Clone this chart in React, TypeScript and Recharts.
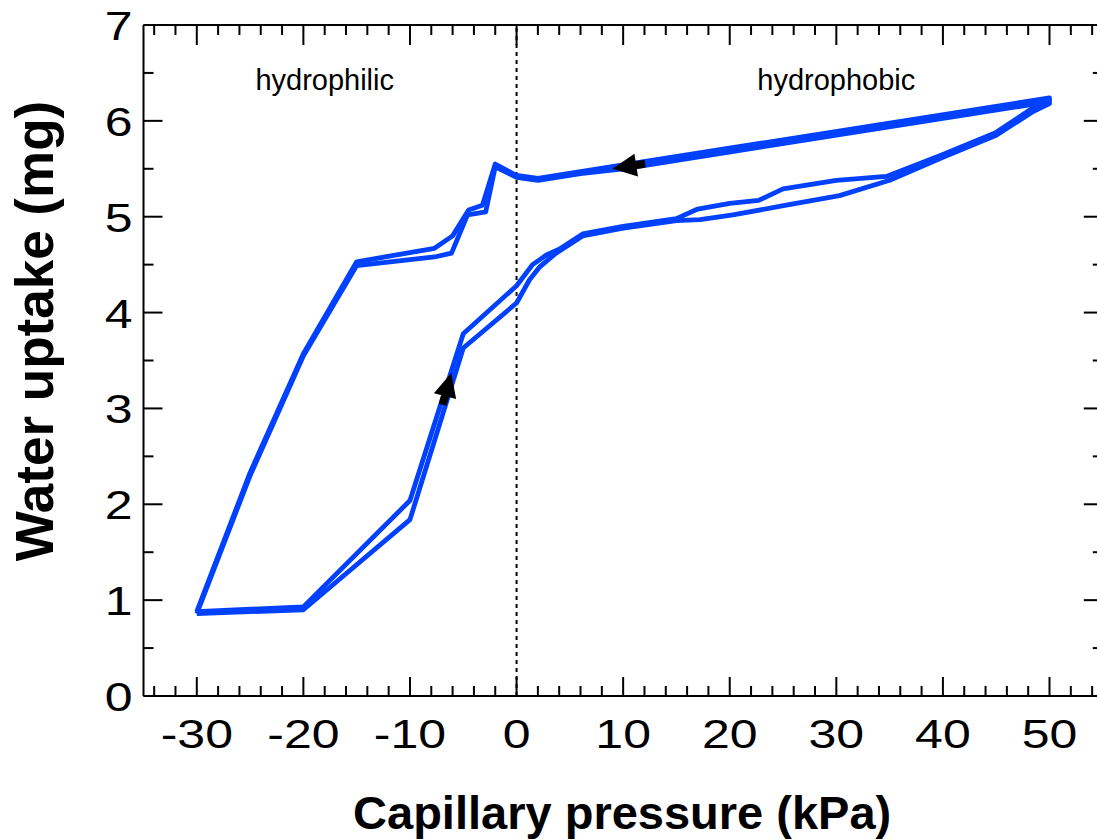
import React from "react";
import { LineChart, Line, XAxis, YAxis, ReferenceLine, ReferenceDot } from "recharts";

// ---------- data ----------
const xTicks = [-34, -32, -30, -28, -26, -24, -22, -20, -18, -16, -14, -12, -10, -8, -6, -4, -2, 0, 2, 4, 6, 8, 10, 12, 14, 16, 18, 20, 22, 24, 26, 28, 30, 32, 34, 36, 38, 40, 42, 44, 46, 48, 50, 52, 54];
const xLabelTicks = [-30, -20, -10, 0, 10, 20, 30, 40, 50];
const yTicks = [0, 0.5, 1, 1.5, 2, 2.5, 3, 3.5, 4, 4.5, 5, 5.5, 6, 6.5, 7];
const yLabelTicks = [0, 1, 2, 3, 4, 5, 6, 7];

// cycle 1: wetting branch (left -> right) then drying branch (right -> left)
const cycle1 = [
  { x: -30, y: 0.86 }, { x: -20, y: 0.9 }, { x: -10, y: 1.84 }, { x: -5, y: 3.63 },
  { x: 0, y: 4.1 }, { x: 1.2, y: 4.34 }, { x: 2.2, y: 4.48 }, { x: 3.7, y: 4.62 },
  { x: 6.2, y: 4.8 }, { x: 10, y: 4.88 }, { x: 15, y: 4.96 }, { x: 17.2, y: 4.97 },
  { x: 20.3, y: 5.02 }, { x: 25.3, y: 5.12 }, { x: 30.3, y: 5.22 }, { x: 35, y: 5.38 },
  { x: 40, y: 5.62 }, { x: 45, y: 5.85 }, { x: 48.5, y: 6.1 }, { x: 50, y: 6.18 },
  { x: 50, y: 6.2 }, { x: 10, y: 5.5 }, { x: 6, y: 5.45 }, { x: 2, y: 5.38 },
  { x: 0, y: 5.41 }, { x: -2, y: 5.52 }, { x: -2.9, y: 5.05 }, { x: -4.6, y: 5.02 },
  { x: -6.1, y: 4.62 }, { x: -7.7, y: 4.58 }, { x: -15, y: 4.49 }, { x: -20, y: 3.55 },
  { x: -25, y: 2.3 }, { x: -30, y: 0.86 },
];

const cycle2 = [
  { x: -30, y: 0.88 }, { x: -20, y: 0.93 }, { x: -10, y: 2.04 }, { x: -5, y: 3.78 },
  { x: 0, y: 4.28 }, { x: 1.5, y: 4.5 }, { x: 2.8, y: 4.6 }, { x: 4, y: 4.66 },
  { x: 6.2, y: 4.82 }, { x: 10, y: 4.9 }, { x: 15, y: 4.98 }, { x: 17, y: 5.08 },
  { x: 20, y: 5.14 }, { x: 22.7, y: 5.17 }, { x: 25, y: 5.29 }, { x: 30, y: 5.38 },
  { x: 34.7, y: 5.42 }, { x: 40, y: 5.65 }, { x: 45, y: 5.88 }, { x: 48.5, y: 6.14 },
  { x: 50, y: 6.22 }, { x: 50, y: 6.24 }, { x: 10, y: 5.54 }, { x: 6, y: 5.47 },
  { x: 2, y: 5.4 }, { x: 0, y: 5.43 }, { x: -2, y: 5.55 }, { x: -3.2, y: 5.12 },
  { x: -4.5, y: 5.07 }, { x: -6, y: 4.8 }, { x: -7.7, y: 4.67 }, { x: -15, y: 4.53 },
  { x: -20, y: 3.57 }, { x: -25, y: 2.33 }, { x: -30, y: 0.88 },
];

const arrowMarks = [
  { x: -6.13, y: 3.37, angle: -75 },
  { x: 9, y: 5.5, angle: 171 },
];

const regionLabels = [
  { x: -18, y: 6.32, text: "hydrophilic" },
  { x: 30, y: 6.32, text: "hydrophobic" },
];

// ---------- styles ----------
const FONT = "'Liberation Sans', Arial, Helvetica, sans-serif";
const BLUE = "#0040ff";
const MAJOR = 19;
const MINOR = 10;

const isMajorX = (v: number) => xLabelTicks.includes(v);
const isMajorY = (v: number) => yLabelTicks.includes(v);

const BottomTick = (props: any) => {
  const { x, y, payload } = props;
  const v = payload.value;
  const major = isMajorX(v);
  return (
    <g>
      <line x1={x} x2={x} y1={y} y2={y - (major ? MAJOR : MINOR)} stroke="#000" strokeWidth={2} />
      {major && (
        <text
          transform={`translate(${x},${y + 52}) scale(1.22,1)`}
          textAnchor="middle"
          fontSize={41}
          fontFamily={FONT}
          fill="#000"
        >
          {String(v)}
        </text>
      )}
    </g>
  );
};

const TopTick = (props: any) => {
  const { x, y, payload } = props;
  const major = isMajorX(payload.value);
  return <line x1={x} x2={x} y1={y} y2={y + (major ? MAJOR + 1 : MINOR)} stroke="#000" strokeWidth={2} />;
};

const LeftTick = (props: any) => {
  const { x, y, payload } = props;
  const v = payload.value;
  const major = isMajorY(v);
  return (
    <g>
      <line x1={x} x2={x + (major ? MAJOR : MINOR)} y1={y} y2={y} stroke="#000" strokeWidth={2} />
      {major && (
        <text
          transform={`translate(${x - 11},${y + 15}) scale(1.22,1)`}
          textAnchor="end"
          fontSize={41}
          fontFamily={FONT}
          fill="#000"
        >
          {String(v)}
        </text>
      )}
    </g>
  );
};

const RightTick = (props: any) => {
  const { x, y, payload } = props;
  const major = isMajorY(payload.value);
  return <line x1={x} x2={x - (major ? MAJOR : MINOR)} y1={y} y2={y} stroke="#000" strokeWidth={2} />;
};

const XTitle = (props: any) => {
  const vb = props.viewBox || { x: 143.5, y: 696, width: 959.3, height: 60 };
  return (
    <text
      x={vb.x + vb.width / 2 - 1}
      y={vb.y + 133}
      textAnchor="middle"
      fontSize={47}
      fontWeight="bold"
      fontFamily={FONT}
      fill="#000"
    >
      Capillary pressure (kPa)
    </text>
  );
};

const YTitle = (props: any) => {
  const vb = props.viewBox || { x: 43.5, y: 25, width: 100, height: 671 };
  const cx = vb.x + 9;
  const cy = vb.y + 306;
  return (
    <text
      transform={`translate(${cx},${cy}) rotate(-90)`}
      textAnchor="middle"
      fontSize={53}
      fontWeight="bold"
      fontFamily={FONT}
      fill="#000"
    >
      Water uptake (mg)
    </text>
  );
};

const makeArrow = (angle: number) => (props: any) => {
  const { cx, cy } = props;
  return (
    <g transform={`translate(${cx},${cy}) rotate(${angle})`}>
      <rect x={-33} y={-4} width={11} height={8} fill="#000" />
      <polygon points="0,0 -24,-11.5 -24,11.5" fill="#000" />
    </g>
  );
};

const makeText = (text: string) => (props: any) => {
  const { cx, cy } = props;
  return (
    <text x={cx} y={cy} textAnchor="middle" fontSize={29} fontFamily={FONT} fill="#000">
      {text}
    </text>
  );
};

export default function App() {
  return (
    <div style={{ position: "absolute", left: 0, top: 0, width: 1097, height: 840, overflow: "hidden", background: "#fff" }}>
      <LineChart
        width={1120}
        height={840}
        margin={{ top: 15, right: 7.2, bottom: 84, left: 43.5 }}
      >
        <XAxis
          xAxisId="b"
          dataKey="x"
          type="number"
          domain={[-35, 55]}
          allowDataOverflow
          ticks={xTicks}
          interval={0}
          tickSize={0}
          tickMargin={0}
          tickLine={false}
          tick={<BottomTick />}
          axisLine={{ stroke: "#000", strokeWidth: 2 }}
          height={60}
          label={{ content: (p: any) => <XTitle {...p} /> }}
        />
        <XAxis
          xAxisId="t"
          orientation="top"
          dataKey="x"
          type="number"
          domain={[-35, 55]}
          allowDataOverflow
          ticks={xTicks}
          interval={0}
          tickSize={0}
          tickMargin={0}
          tickLine={false}
          tick={<TopTick />}
          axisLine={{ stroke: "#000", strokeWidth: 2 }}
          height={10}
        />
        <YAxis
          yAxisId="l"
          type="number"
          domain={[0, 7]}
          allowDataOverflow
          ticks={yTicks}
          interval={0}
          tickSize={0}
          tickMargin={0}
          tickLine={false}
          tick={<LeftTick />}
          axisLine={{ stroke: "#000", strokeWidth: 2 }}
          width={100}
          label={{ content: (p: any) => <YTitle {...p} /> }}
        />
        <YAxis
          yAxisId="r"
          orientation="right"
          type="number"
          domain={[0, 7]}
          allowDataOverflow
          ticks={yTicks}
          interval={0}
          tickSize={0}
          tickMargin={0}
          tickLine={false}
          tick={<RightTick />}
          axisLine={{ stroke: "#000", strokeWidth: 2 }}
          width={10}
        />
        <ReferenceLine xAxisId="b" yAxisId="l" x={0} stroke="#000" strokeWidth={2} strokeDasharray="4 4" />
        <Line
          xAxisId="b"
          yAxisId="l"
          data={cycle1}
          dataKey="y"
          type="linear"
          stroke={BLUE}
          strokeWidth={4.8}
          strokeLinejoin="round"
          dot={false}
          activeDot={false}
          isAnimationActive={false}
        />
        <Line
          xAxisId="b"
          yAxisId="l"
          data={cycle2}
          dataKey="y"
          type="linear"
          stroke={BLUE}
          strokeWidth={4.8}
          strokeLinejoin="round"
          dot={false}
          activeDot={false}
          isAnimationActive={false}
        />
        {arrowMarks.map((a, i) => (
          <ReferenceDot key={"a" + i} xAxisId="b" yAxisId="l" x={a.x} y={a.y} r={1} shape={makeArrow(a.angle)} />
        ))}
        {regionLabels.map((t, i) => (
          <ReferenceDot key={"t" + i} xAxisId="b" yAxisId="l" x={t.x} y={t.y} r={1} shape={makeText(t.text)} />
        ))}
      </LineChart>
    </div>
  );
}
